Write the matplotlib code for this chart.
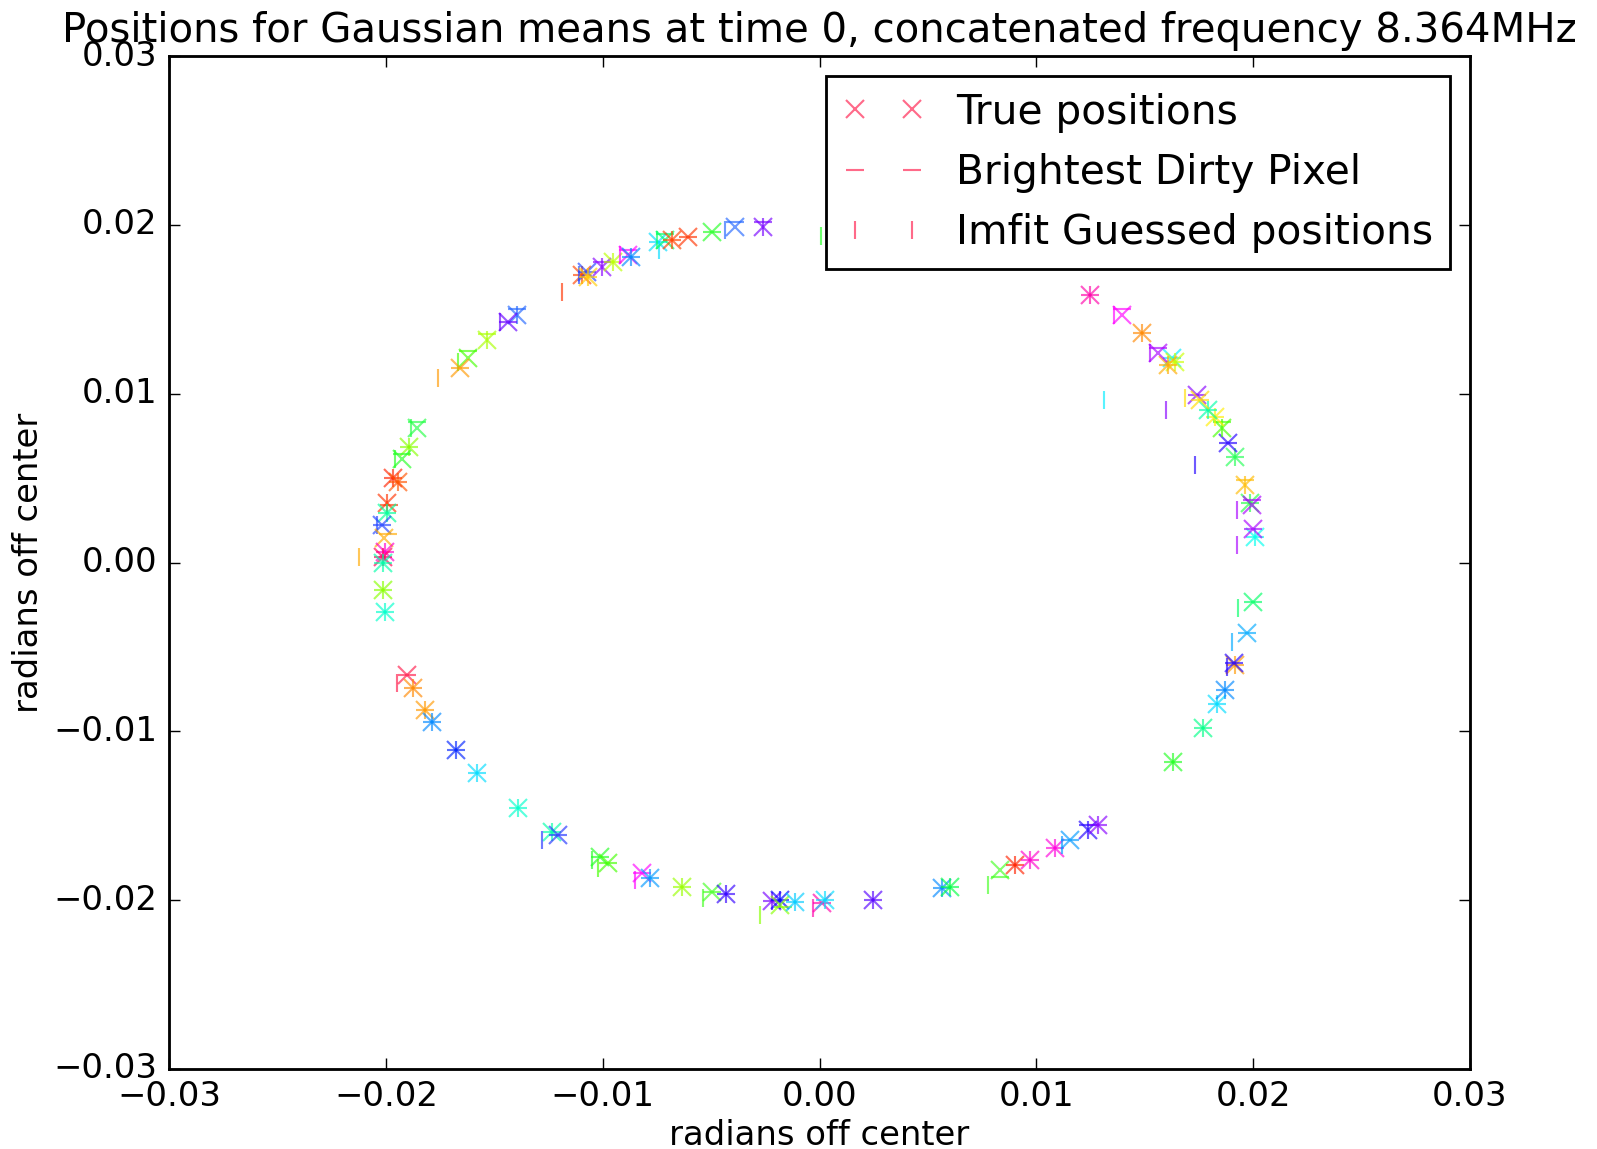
import matplotlib
matplotlib.use("Agg")
import matplotlib.pyplot as plt

plt.style.use("classic")
plt.rcParams["font.family"] = ["DejaVu Sans"]

# ---- data (radians off center) ----
true_x = [-0.01902, -0.01095, -0.01072, -0.01068, -0.01003, -0.00952, -0.00883, -0.00870,
          -0.00745, -0.00713, -0.00680, -0.00606, -0.00496, -0.00390, -0.00261, -0.01395,
          -0.01437, -0.01533, -0.01621, -0.01658, -0.01856, -0.01893, -0.01925, -0.01967,
          -0.01944, -0.01995, -0.01995, -0.02018, -0.02008, -0.02004, -0.02013, -0.02013,
          -0.02013, -0.02004, -0.01875, -0.01819, -0.01787, -0.01676, -0.01580, -0.01390,
          -0.01234, -0.01206, -0.01012, -0.00975, -0.00819, -0.00782, -0.00634, -0.00496,
          -0.00431, -0.00219, -0.00182, -0.00182, -0.00113, 0.00012, 0.00025, 0.00247,
          0.00565, 0.00602, 0.00832, 0.00902, 0.00971, 0.01086, 0.01155, 0.01238,
          0.01284, 0.01630, 0.01769, 0.01833, 0.01870, 0.01916, 0.01912, 0.01972,
          0.01999, 0.02008, 0.01999, 0.01985, 0.01995, 0.01962, 0.01916, 0.01884,
          0.01856, 0.01824, 0.01792, 0.01741, 0.01755, 0.01626, 0.01640, 0.01607,
          0.01561, 0.01487, 0.01395, 0.01248]
true_y = [-0.00666, 0.01703, 0.01721, 0.01691, 0.01750, 0.01780, 0.01821, 0.01810,
          0.01898, 0.01910, 0.01910, 0.01928, 0.01958, 0.01987, 0.01987, 0.01466,
          0.01424, 0.01318, 0.01211, 0.01152, 0.00797, 0.00684, 0.00613, 0.00500,
          0.00477, 0.00352, 0.00293, 0.00222, 0.00145, 0.00062, 0.00033, -0.00003,
          -0.00163, -0.00293, -0.00743, -0.00874, -0.00945, -0.01111, -0.01247, -0.01454,
          -0.01596, -0.01614, -0.01744, -0.01780, -0.01839, -0.01869, -0.01922, -0.01952,
          -0.01963, -0.02005, -0.01999, -0.02029, -0.02011, -0.02017, -0.01999, -0.01999,
          -0.01928, -0.01922, -0.01821, -0.01792, -0.01762, -0.01691, -0.01644, -0.01584,
          -0.01555, -0.01182, -0.00980, -0.00838, -0.00755, -0.00607, -0.00595, -0.00418,
          -0.00234, 0.00151, 0.00198, 0.00352, 0.00341, 0.00459, 0.00625, 0.00708,
          0.00797, 0.00862, 0.00903, 0.00992, 0.00963, 0.01211, 0.01188, 0.01170,
          0.01241, 0.01359, 0.01466, 0.01584]

dirty_x = [-0.01902, -0.01095, -0.01072, -0.01068, -0.01003, -0.00952, -0.00883, -0.00870,
           -0.00745, -0.00713, -0.00680, -0.00606, -0.00496, -0.00390, -0.00261, -0.01395,
           -0.01437, -0.01533, -0.01621, -0.01658, -0.01856, -0.01893, -0.01925, -0.01967,
           -0.01944, -0.01985, -0.01995, -0.02018, -0.01990, -0.02004, -0.02013, -0.02013,
           -0.02013, -0.02004, -0.01875, -0.01819, -0.01787, -0.01676, -0.01580, -0.01390,
           -0.01234, -0.01206, -0.01012, -0.00975, -0.00819, -0.00782, -0.00634, -0.00496,
           -0.00431, -0.00219, -0.00182, -0.00170, -0.00113, 0.00012, 0.00025, 0.00247,
           0.00565, 0.00602, 0.00832, 0.00902, 0.00971, 0.01086, 0.01155, 0.01238,
           0.01284, 0.01630, 0.01769, 0.01833, 0.01870, 0.01916, 0.01912, 0.01972,
           0.01999, 0.02008, 0.01999, 0.01985, 0.01995, 0.01962, 0.01916, 0.01884,
           0.01856, 0.01824, 0.01792, 0.01741, 0.01755, 0.01626, 0.01640, 0.01607,
           0.01561, 0.01487, 0.01395, 0.01248]
dirty_y = [-0.00666, 0.01703, 0.01721, 0.01691, 0.01780, 0.01780, 0.01850, 0.01810,
           0.01898, 0.01945, 0.01910, 0.01928, 0.01958, 0.02017, 0.02017, 0.01500,
           0.01424, 0.01355, 0.01250, 0.01152, 0.00835, 0.00684, 0.00640, 0.00500,
           0.00477, 0.00340, 0.00293, 0.00222, 0.00170, 0.00062, 0.00033, -0.00003,
           -0.00163, -0.00293, -0.00743, -0.00874, -0.00945, -0.01111, -0.01247, -0.01454,
           -0.01596, -0.01614, -0.01744, -0.01780, -0.01839, -0.01869, -0.01922, -0.01952,
           -0.01963, -0.02005, -0.01999, -0.02040, -0.02011, -0.02017, -0.01999, -0.01999,
           -0.01928, -0.01922, -0.01860, -0.01792, -0.01762, -0.01691, -0.01644, -0.01555,
           -0.01555, -0.01182, -0.00980, -0.00838, -0.00755, -0.00607, -0.00595, -0.00418,
           -0.00234, 0.00151, 0.00198, 0.00352, 0.00370, 0.00490, 0.00625, 0.00708,
           0.00830, 0.00862, 0.00903, 0.00992, 0.00963, 0.01211, 0.01188, 0.01170,
           0.01270, 0.01359, 0.01500, 0.01584]

imfit_x = [-0.01949, -0.01095, -0.01110, -0.01068, -0.01003, -0.00952, -0.00920, -0.00870,
           -0.00740, -0.00750, -0.00680, -0.01188, 0.00007, -0.00436, -0.00261, -0.01395,
           -0.01475, -0.01533, -0.01667, -0.01759, -0.01885, -0.01893, -0.01960, -0.01967,
           -0.01944, -0.01995, -0.01995, -0.02040, -0.02124, -0.02004, -0.02013, -0.02013,
           -0.02013, -0.02004, -0.01875, -0.01819, -0.01787, -0.01676, -0.01580, -0.01390,
           -0.01234, -0.01280, -0.01051, -0.01021, -0.00851, -0.00782, -0.00634, -0.00537,
           -0.00431, -0.00219, -0.00182, -0.00274, -0.00113, -0.00030, 0.00025, 0.00247,
           0.00565, 0.00602, 0.00777, 0.00902, 0.00971, 0.01086, 0.01118, 0.01238,
           0.01284, 0.01630, 0.01769, 0.01833, 0.01870, 0.01916, 0.01879, 0.01902,
           0.01930, 0.02008, 0.01925, 0.01985, 0.01925, 0.01962, 0.01916, 0.01732,
           0.01856, 0.01824, 0.01792, 0.01598, 0.01686, 0.01312, 0.01640, 0.01607,
           0.01525, 0.01487, 0.01360, 0.01248]
imfit_y = [-0.00714, 0.01703, 0.01700, 0.01691, 0.01750, 0.01780, 0.01821, 0.01810,
           0.01850, 0.01910, 0.01910, 0.01602, 0.01934, 0.01970, 0.01987, 0.01466,
           0.01424, 0.01318, 0.01188, 0.01093, 0.00797, 0.00684, 0.00613, 0.00500,
           0.00477, 0.00352, 0.00293, 0.00222, 0.00033, 0.00062, 0.00033, -0.00003,
           -0.00163, -0.00293, -0.00743, -0.00874, -0.00945, -0.01111, -0.01247, -0.01454,
           -0.01596, -0.01644, -0.01762, -0.01809, -0.01881, -0.01869, -0.01922, -0.01987,
           -0.01963, -0.02005, -0.01999, -0.02088, -0.02011, -0.02047, -0.01999, -0.01999,
           -0.01928, -0.01922, -0.01910, -0.01792, -0.01762, -0.01691, -0.01673, -0.01584,
           -0.01555, -0.01182, -0.00980, -0.00838, -0.00755, -0.00607, -0.00619, -0.00471,
           -0.00269, 0.00151, 0.00104, 0.00352, 0.00311, 0.00459, 0.00625, 0.00578,
           0.00797, 0.00862, 0.00903, 0.00903, 0.00974, 0.00963, 0.01188, 0.01170,
           0.01241, 0.01359, 0.01466, 0.01584]

colors = ["#ff1a4a", "#ff4400", "#2244ff", "#ffcc00", "#8800ff", "#bbff00", "#ff00ff", "#0088ff",
          "#00ddff", "#00ff66", "#ff4400", "#ff3300", "#22ff22", "#2266ff", "#7700ff", "#2266ff",
          "#6600ff", "#aaff00", "#44ff00", "#ff9900", "#22ff44", "#88ff00", "#22ff22", "#ff2200",
          "#ff5500", "#ff3300", "#00ff99", "#2244ff", "#ffaa00", "#ff00cc", "#ff0055", "#00ffaa",
          "#88ff00", "#00ffcc", "#ff8800", "#ff9900", "#0088ff", "#0022ff", "#00ddff", "#00ffcc",
          "#00ffaa", "#2233ff", "#22ff22", "#44ff00", "#ff00ff", "#0099ff", "#99ff00", "#44ff22",
          "#3300ff", "#7700ff", "#0000ff", "#88ff00", "#00ccff", "#ff00aa", "#00ddff", "#5500ff",
          "#0088ff", "#00ff44", "#44ff22", "#ff2200", "#ff00cc", "#ff00dd", "#0099ff", "#2200ff",
          "#8800ff", "#22ff22", "#00ff88", "#00ddff", "#0088ff", "#ff9900", "#2200ff", "#00aaff",
          "#00ff66", "#00ffee", "#aa00ff", "#22ff44", "#aa00ff", "#ffbb00", "#22ff55", "#2200ff",
          "#44ff00", "#ffee00", "#00ffaa", "#8800ff", "#ffdd00", "#00eeff", "#ccff00", "#ffaa00",
          "#aa00ff", "#ff8800", "#ff00ff", "#ff00aa"]

labels = ["True positions", "Brightest Dirty Pixel", "Imfit Guessed positions"]
title = "Positions for Gaussian means at time 0, concatenated frequency 8.364MHz"

W, H, DPI = 1597, 1149, 203
fig = plt.figure(figsize=(W / DPI, H / DPI), dpi=DPI, facecolor="white")
ax = fig.add_axes([169 / W, 1 - 1069 / H, 1301 / W, 1013 / H])

ms, mew, alpha = 6.5, 0.75, 0.65
for i, c in enumerate(colors):
    kw = dict(color=c, alpha=alpha, markersize=ms, markeredgewidth=mew, linestyle="none")
    ax.plot(true_x[i], true_y[i], "x", label=labels[0] if i == 0 else None, **kw)
    ax.plot(dirty_x[i], dirty_y[i], "_", label=labels[1] if i == 0 else None, **kw)
    ax.plot(imfit_x[i], imfit_y[i], "|", label=labels[2] if i == 0 else None, **kw)

ax.set_xlim(-0.03, 0.03)
ax.set_ylim(-0.03, 0.03)
ax.set_xticks([-0.03, -0.02, -0.01, 0.0, 0.01, 0.02, 0.03])
ax.set_yticks([-0.03, -0.02, -0.01, 0.0, 0.01, 0.02, 0.03])
ax.tick_params(direction="in", top=True, right=True, length=4, labelsize=12)
ax.set_xlabel("radians off center", fontsize=12, labelpad=2)
ax.set_ylabel("radians off center", fontsize=12, labelpad=3)
ax.set_title(title, fontsize=14.3)
ax.legend(loc="upper right", numpoints=2, fontsize=14.4, fancybox=False, framealpha=1,
          edgecolor="black")

fig.savefig("out.png", dpi=DPI, facecolor="white")
